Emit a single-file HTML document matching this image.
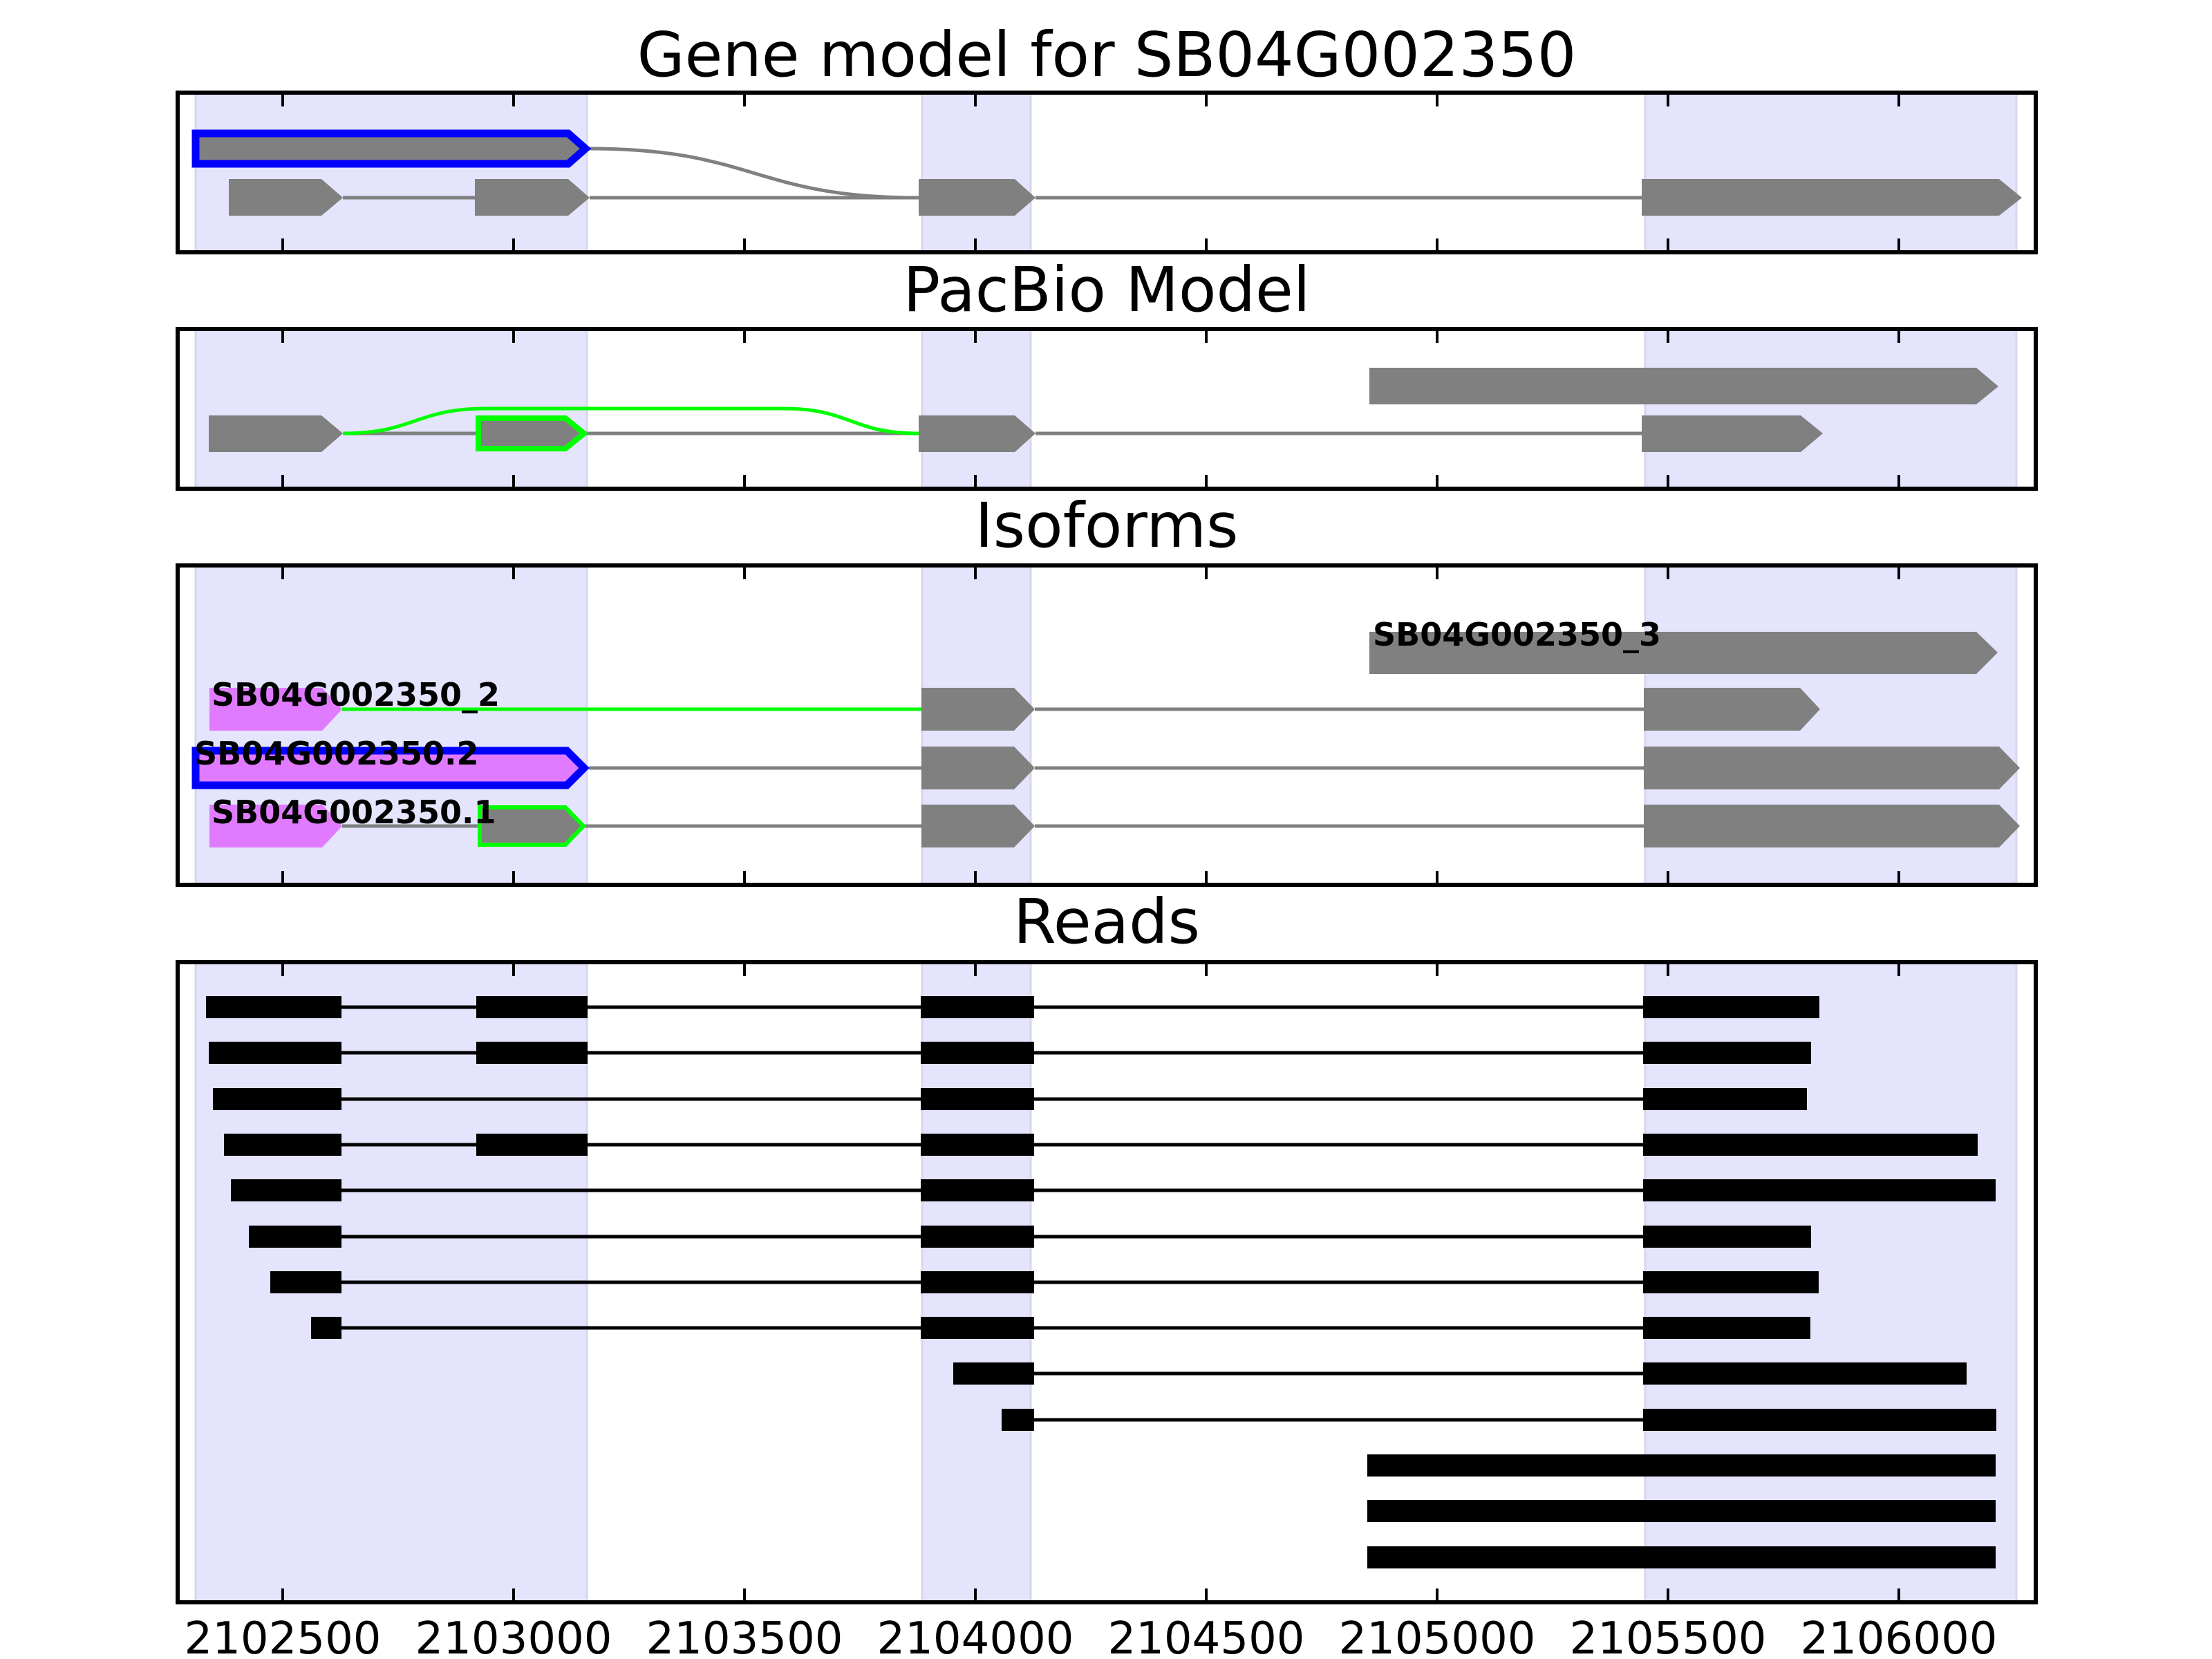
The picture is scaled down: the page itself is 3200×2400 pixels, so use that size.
<!DOCTYPE html>
<html><head><meta charset="utf-8"><style>html,body{margin:0;padding:0;background:#fff}svg{display:block}</style></head><body>
<svg width="3200" height="2400" viewBox="0 0 3200 2400" xmlns="http://www.w3.org/2000/svg" font-family="DejaVu Sans, Liberation Sans, sans-serif">
<!-- Titles -->
<g font-size="89" text-anchor="middle" fill="#000">
<text x="1601" y="110">Gene model for SB04G002350</text>
<text x="1601" y="450">PacBio Model</text>
<text x="1601" y="791">Isoforms</text>
<text x="1601" y="1364">Reads</text>
</g>

<!-- Panel 1 -->
<g>
<rect x="283" y="134" width="566" height="231" fill="#e4e4fc" stroke="#d6d6ee" stroke-width="3"/>
<rect x="1334" y="134" width="157" height="231" fill="#e4e4fc" stroke="#d6d6ee" stroke-width="3"/>
<rect x="2380" y="134" width="537" height="231" fill="#e4e4fc" stroke="#d6d6ee" stroke-width="3"/>
<path d="M853,215 C1091,215 1091,286 1329,286" fill="none" stroke="#808080" stroke-width="5"/>
<line x1="496" y1="286" x2="687" y2="286" stroke="#808080" stroke-width="5"/>
<line x1="853" y1="286" x2="1329" y2="286" stroke="#808080" stroke-width="5"/>
<line x1="1498" y1="286" x2="2375" y2="286" stroke="#808080" stroke-width="5"/>
<polygon points="283,193 822,193 847,215 822,237 283,237" fill="#808080" stroke="#0000ff" stroke-width="11"/>
<polygon points="331,259 465,259 496,286 465,312 331,312" fill="#808080"/>
<polygon points="687,259 822,259 853,286 822,312 687,312" fill="#808080"/>
<polygon points="1329,259 1468,259 1498,286 1468,312 1329,312" fill="#808080"/>
<polygon points="2375,259 2892,259 2925,286 2892,312 2375,312" fill="#808080"/>
</g>

<!-- Panel 2 -->
<g>
<rect x="283" y="476" width="566" height="231" fill="#e4e4fc" stroke="#d6d6ee" stroke-width="3"/>
<rect x="1334" y="476" width="157" height="231" fill="#e4e4fc" stroke="#d6d6ee" stroke-width="3"/>
<rect x="2380" y="476" width="537" height="231" fill="#e4e4fc" stroke="#d6d6ee" stroke-width="3"/>
<polygon points="1981,532 2859,532 2891,559 2859,585 1981,585" fill="#808080"/>
<line x1="496" y1="627" x2="1329" y2="627" stroke="#808080" stroke-width="5"/>
<line x1="1498" y1="627" x2="2375" y2="627" stroke="#808080" stroke-width="5"/>
<path d="M496,627 C600,627 600,591 704,591 L1133,591 C1231,591 1231,627 1329,627" fill="none" stroke="#00ff00" stroke-width="5"/>
<polygon points="302,601 465,601 496,627 465,654 302,654" fill="#808080"/>
<polygon points="692,605 818,605 845,627 818,649 692,649" fill="#808080" stroke="#00ff00" stroke-width="8"/>
<polygon points="1329,601 1468,601 1498,627 1468,654 1329,654" fill="#808080"/>
<polygon points="2375,601 2605,601 2637,627 2605,654 2375,654" fill="#808080"/>
</g>

<!-- Panel 3 -->
<g>
<rect x="283" y="818" width="566" height="462" fill="#e4e4fc" stroke="#d6d6ee" stroke-width="3"/>
<rect x="1334" y="818" width="157" height="462" fill="#e4e4fc" stroke="#d6d6ee" stroke-width="3"/>
<rect x="2380" y="818" width="537" height="462" fill="#e4e4fc" stroke="#d6d6ee" stroke-width="3"/>
<polygon points="1981,914 2859,914 2890,944 2859,975 1981,975" fill="#808080"/>
<line x1="495" y1="1026" x2="1333" y2="1026" stroke="#00ff00" stroke-width="5"/>
<line x1="1497" y1="1026" x2="2378" y2="1026" stroke="#808080" stroke-width="5"/>
<polygon points="303,995 466,995 495,1026 466,1057 303,1057" fill="#e07bff"/>
<polygon points="1333,995 1467,995 1497,1026 1467,1057 1333,1057" fill="#808080"/>
<polygon points="2378,995 2604,995 2633,1026 2604,1057 2378,1057" fill="#808080"/>
<line x1="852" y1="1111" x2="1333" y2="1111" stroke="#808080" stroke-width="5"/>
<line x1="1497" y1="1111" x2="2378" y2="1111" stroke="#808080" stroke-width="5"/>
<polygon points="283,1086 820,1086 845,1111 820,1136 283,1136" fill="#e07bff" stroke="#0000ff" stroke-width="11"/>
<polygon points="1333,1080 1467,1080 1497,1111 1467,1142 1333,1142" fill="#808080"/>
<polygon points="2378,1080 2892,1080 2922,1111 2892,1142 2378,1142" fill="#808080"/>
<line x1="495" y1="1195" x2="691" y2="1195" stroke="#808080" stroke-width="5"/>
<line x1="846" y1="1195" x2="1333" y2="1195" stroke="#808080" stroke-width="5"/>
<line x1="1497" y1="1195" x2="2378" y2="1195" stroke="#808080" stroke-width="5"/>
<polygon points="303,1164 466,1164 495,1195 466,1226 303,1226" fill="#e07bff"/>
<polygon points="694,1168 818,1168 844,1195 818,1222 694,1222" fill="#808080" stroke="#00ff00" stroke-width="6"/>
<polygon points="1333,1164 1467,1164 1497,1195 1467,1226 1333,1226" fill="#808080"/>
<polygon points="2378,1164 2892,1164 2922,1195 2892,1226 2378,1226" fill="#808080"/>
<g font-size="46" font-weight="bold" fill="#000">
<text x="1986" y="934">SB04G002350_3</text>
<text x="306" y="1021">SB04G002350_2</text>
<text x="281" y="1106">SB04G002350.2</text>
<text x="306" y="1191">SB04G002350.1</text>
</g>
</g>

<!-- Panel 4 -->
<g>
<rect x="283" y="1392" width="566" height="926" fill="#e4e4fc" stroke="#d6d6ee" stroke-width="3"/>
<rect x="1334" y="1392" width="157" height="926" fill="#e4e4fc" stroke="#d6d6ee" stroke-width="3"/>
<rect x="2380" y="1392" width="537" height="926" fill="#e4e4fc" stroke="#d6d6ee" stroke-width="3"/>
<g stroke="#000" stroke-width="5">
<line x1="494" y1="1457" x2="2377" y2="1457"/>
<line x1="494" y1="1523" x2="2377" y2="1523"/>
<line x1="494" y1="1590" x2="2377" y2="1590"/>
<line x1="494" y1="1656" x2="2377" y2="1656"/>
<line x1="494" y1="1722" x2="2377" y2="1722"/>
<line x1="494" y1="1789" x2="2377" y2="1789"/>
<line x1="494" y1="1855" x2="2377" y2="1855"/>
<line x1="494" y1="1921" x2="2377" y2="1921"/>
<line x1="1496" y1="1987" x2="2377" y2="1987"/>
<line x1="1496" y1="2054" x2="2377" y2="2054"/>
</g>
<g fill="#000">
<rect x="298" y="1441" width="196" height="32"/><rect x="689" y="1441" width="161" height="32"/><rect x="1332" y="1441" width="164" height="32"/><rect x="2377" y="1441" width="255" height="32"/>
<rect x="302" y="1507" width="192" height="32"/><rect x="689" y="1507" width="161" height="32"/><rect x="1332" y="1507" width="164" height="32"/><rect x="2377" y="1507" width="243" height="32"/>
<rect x="308" y="1574" width="186" height="32"/><rect x="1332" y="1574" width="164" height="32"/><rect x="2377" y="1574" width="237" height="32"/>
<rect x="324" y="1640" width="170" height="32"/><rect x="689" y="1640" width="161" height="32"/><rect x="1332" y="1640" width="164" height="32"/><rect x="2377" y="1640" width="484" height="32"/>
<rect x="334" y="1706" width="160" height="32"/><rect x="1332" y="1706" width="164" height="32"/><rect x="2377" y="1706" width="510" height="32"/>
<rect x="360" y="1773" width="134" height="32"/><rect x="1332" y="1773" width="164" height="32"/><rect x="2377" y="1773" width="243" height="32"/>
<rect x="391" y="1839" width="103" height="32"/><rect x="1332" y="1839" width="164" height="32"/><rect x="2377" y="1839" width="254" height="32"/>
<rect x="450" y="1905" width="44" height="32"/><rect x="1332" y="1905" width="164" height="32"/><rect x="2377" y="1905" width="242" height="32"/>
<rect x="1379" y="1971" width="117" height="32"/><rect x="2377" y="1971" width="468" height="32"/>
<rect x="1449" y="2038" width="47" height="32"/><rect x="2377" y="2038" width="511" height="32"/>
<rect x="1978" y="2104" width="909" height="32"/>
<rect x="1978" y="2170" width="909" height="32"/>
<rect x="1978" y="2237" width="909" height="32"/>
</g>
</g>

<!-- Frames and ticks -->
<g fill="none" stroke="#000" stroke-width="6">
<rect x="257" y="134" width="2688" height="231"/>
<rect x="257" y="476" width="2688" height="231"/>
<rect x="257" y="818" width="2688" height="462"/>
<rect x="257" y="1392" width="2688" height="926"/>
</g>
<g stroke="#000" stroke-width="4">
<path d="M409,134v20M743,134v20M1077,134v20M1411,134v20M1745,134v20M2079,134v20M2413,134v20M2747,134v20
M409,365v-20M743,365v-20M1077,365v-20M1411,365v-20M1745,365v-20M2079,365v-20M2413,365v-20M2747,365v-20
M409,476v20M743,476v20M1077,476v20M1411,476v20M1745,476v20M2079,476v20M2413,476v20M2747,476v20
M409,707v-20M743,707v-20M1077,707v-20M1411,707v-20M1745,707v-20M2079,707v-20M2413,707v-20M2747,707v-20
M409,818v20M743,818v20M1077,818v20M1411,818v20M1745,818v20M2079,818v20M2413,818v20M2747,818v20
M409,1280v-20M743,1280v-20M1077,1280v-20M1411,1280v-20M1745,1280v-20M2079,1280v-20M2413,1280v-20M2747,1280v-20
M409,1392v20M743,1392v20M1077,1392v20M1411,1392v20M1745,1392v20M2079,1392v20M2413,1392v20M2747,1392v20
M409,2318v-20M743,2318v-20M1077,2318v-20M1411,2318v-20M1745,2318v-20M2079,2318v-20M2413,2318v-20M2747,2318v-20"/>
</g>
<g font-size="64" text-anchor="middle" fill="#000">
<text x="409" y="2392">2102500</text>
<text x="743" y="2392">2103000</text>
<text x="1077" y="2392">2103500</text>
<text x="1411" y="2392">2104000</text>
<text x="1745" y="2392">2104500</text>
<text x="2079" y="2392">2105000</text>
<text x="2413" y="2392">2105500</text>
<text x="2747" y="2392">2106000</text>
</g>
</svg>
</body></html>
